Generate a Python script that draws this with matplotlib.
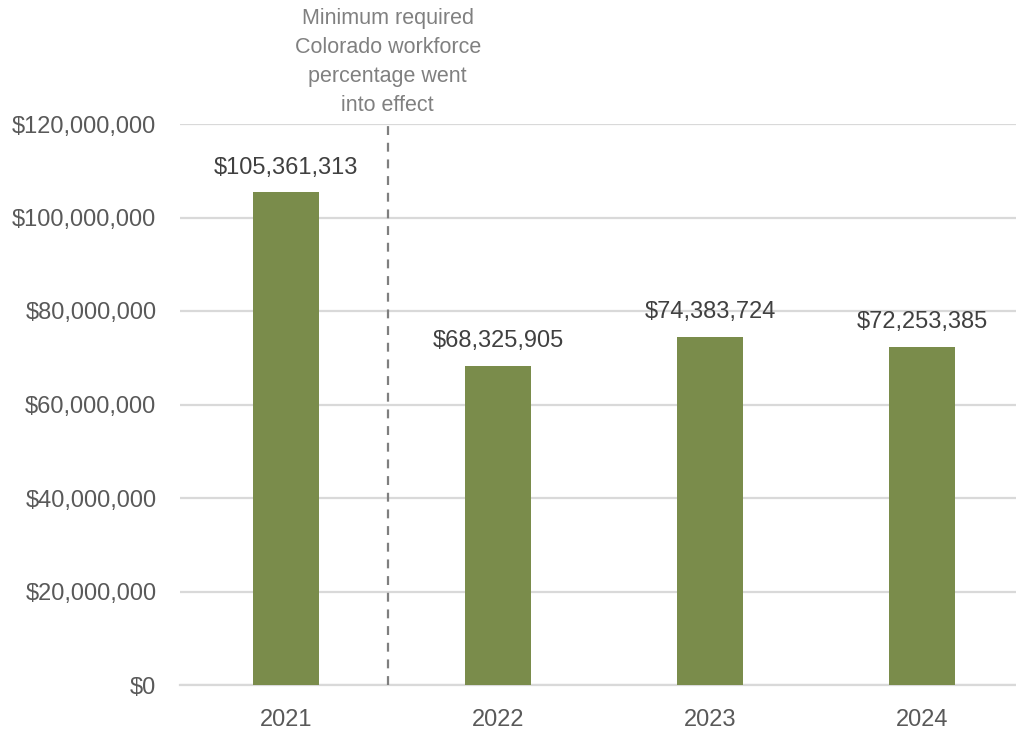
import matplotlib
matplotlib.use('Agg')
import matplotlib.pyplot as plt
from matplotlib.ticker import FuncFormatter

years = ['2021', '2022', '2023', '2024']
amounts = [105361313, 68325905, 74383724, 72253385]
note = 'Minimum required\nColorado workforce\npercentage went\ninto effect'

plt.rcParams['font.family'] = ['Liberation Sans', 'DejaVu Sans']

fig = plt.figure(figsize=(10.16, 7.32), dpi=100)
ax = fig.add_axes([180 / 1016, 1 - 685 / 732, 848 / 1016, 561 / 732])

x = range(len(years))
ax.bar(x, amounts, width=0.315, color='#7A8C4B', zorder=3)

for i, v in zip(x, amounts):
    ax.annotate(f'${v:,.0f}', (i, v), xytext=(0, 10), textcoords='offset points',
                ha='center', va='bottom', fontsize=17, color='#404040')

ax.set_xlim(-0.5, 3.5)
ax.set_ylim(0, 120000000)
ax.set_yticks(range(0, 120000001, 20000000))
ax.yaxis.set_major_formatter(FuncFormatter(lambda v, p: f'${v:,.0f}'))
ax.set_xticks(list(x))
ax.set_xticklabels(years)

ax.grid(axis='y', color='#D9D9D9', linewidth=1.6, zorder=0)
for s in ['top', 'right', 'left']:
    ax.spines[s].set_visible(False)
ax.spines['bottom'].set_color('#D9D9D9')
ax.spines['bottom'].set_linewidth(1.6)
ax.tick_params(axis='both', length=0, labelsize=17, labelcolor='#595959')
ax.tick_params(axis='y', pad=17)
ax.tick_params(axis='x', pad=17)

ax.axvline(0.48, color='#7F7F7F', linestyle=(0, (4, 3.5)), linewidth=1.6, zorder=4)
ax.annotate(note, (0.48, 1), xycoords=ax.get_xaxis_transform(), xytext=(0, 6),
            textcoords='offset points', ha='center', va='bottom',
            fontsize=15.5, color='#808080', linespacing=1.5, annotation_clip=False)

fig.savefig('out.png', dpi=100)
